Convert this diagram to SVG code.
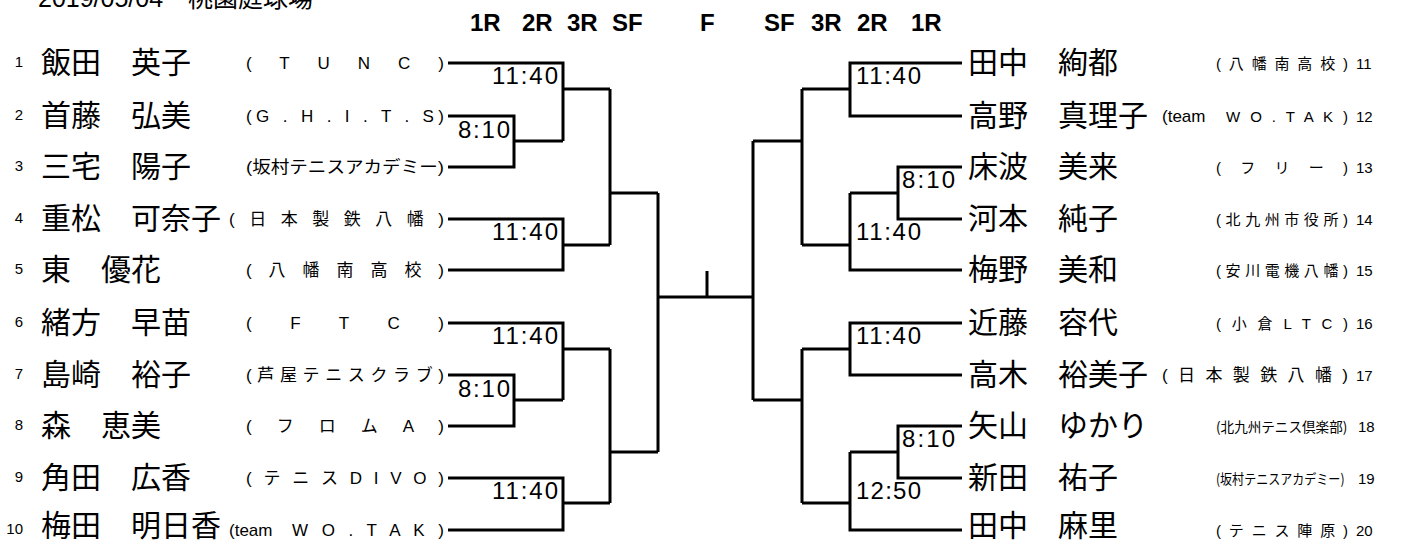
<svg xmlns="http://www.w3.org/2000/svg" width="1416" height="544" viewBox="0 0 1416 544">
<style>
.nm{font-family:'Noto Sans CJK JP','Liberation Sans',sans-serif;font-size:30px;fill:#000}
.no{font-family:'Liberation Sans',sans-serif;font-size:15px;fill:#000}
.af{font-family:'Liberation Sans','Noto Sans CJK JP',sans-serif;font-size:17px;fill:#000}
.ar{font-family:'Liberation Sans','Noto Sans CJK JP',sans-serif;font-size:15px;fill:#000}
.aj{font-family:'Noto Sans CJK JP',sans-serif;font-size:14px;fill:#000}
.sc{font-family:'Liberation Sans',sans-serif;font-size:24px;fill:#000}
.hd{font-family:'Liberation Sans',sans-serif;font-size:24px;font-weight:bold;fill:#000}
.dt{font-family:'Liberation Sans','Noto Sans CJK JP',sans-serif;font-size:25px;fill:#000}
.ln{fill:none;stroke:#000;stroke-width:3}
</style>
<rect width="1416" height="544" fill="#fff"/>
<g id="header">
<text class="dt" x="38" y="7">2019/05/04　桃園庭球場</text>
<text class="hd" x="470" y="31">1R</text>
<text class="hd" x="522" y="31">2R</text>
<text class="hd" x="567" y="31">3R</text>
<text class="hd" x="612" y="31">SF</text>
<text class="hd" x="700" y="31">F</text>
<text class="hd" x="764" y="31">SF</text>
<text class="hd" x="811" y="31">3R</text>
<text class="hd" x="857" y="31">2R</text>
<text class="hd" x="911" y="31">1R</text>
</g>
<g id="connectors">
<path class="ln" d="M448,63H563V141M448,116H514V167H448M514,141H563M563,89H610"/>
<path class="ln" d="M448,219H563V270H448M563,245H610M610,89V245M610,193H658"/>
<path class="ln" d="M448,323H563V400M448,375H514V426H448M514,400H563M563,349H610"/>
<path class="ln" d="M448,478H563V530H448M563,503H610M610,349V503M610,452H658"/>
<path class="ln" d="M658,193V452M658,297H753M707,271V297"/>
<path class="ln" d="M753,141V400M753,141H802M753,400H802M802,89V245"/>
<path class="ln" d="M962,63H850V116H962M802,89H850M962,167H898V219H962M850,193H898M850,193V270H962M802,245H850"/>
<path class="ln" d="M962,323H850V375H962M802,349H850M802,349V503M962,426H898V478H962M850,452H898M850,452V530H962M802,503H850"/>
</g>
<g id="scores">
<text class="sc" x="492" y="84" textLength="66" lengthAdjust="spacing">11:40</text>
<text class="sc" x="458" y="138" textLength="52" lengthAdjust="spacing">8:10</text>
<text class="sc" x="492" y="240" textLength="66" lengthAdjust="spacing">11:40</text>
<text class="sc" x="492" y="344" textLength="66" lengthAdjust="spacing">11:40</text>
<text class="sc" x="458" y="397" textLength="52" lengthAdjust="spacing">8:10</text>
<text class="sc" x="492" y="499" textLength="66" lengthAdjust="spacing">11:40</text>
<text class="sc" x="856" y="84" textLength="65" lengthAdjust="spacing">11:40</text>
<text class="sc" x="902" y="188" textLength="53" lengthAdjust="spacing">8:10</text>
<text class="sc" x="856" y="240" textLength="65" lengthAdjust="spacing">11:40</text>
<text class="sc" x="856" y="344" textLength="65" lengthAdjust="spacing">11:40</text>
<text class="sc" x="902" y="447" textLength="53" lengthAdjust="spacing">8:10</text>
<text class="sc" x="856" y="499" textLength="65" lengthAdjust="spacing">12:50</text>
</g>
<g id="p1"><text class="no" x="23" y="67" text-anchor="end">1</text><text class="nm" x="41" y="73">飯田　英子</text><text class="af" x="246" y="69" textLength="198" lengthAdjust="spacing">( T U N C )</text></g>
<g id="p2"><text class="no" x="23" y="120" text-anchor="end">2</text><text class="nm" x="41" y="126">首藤　弘美</text><text class="af" x="246" y="122" textLength="198" lengthAdjust="spacing">(G . H . I . T . S)</text></g>
<g id="p3"><text class="no" x="23" y="171" text-anchor="end">3</text><text class="nm" x="41" y="177">三宅　陽子</text><text class="af" x="246" y="173" font-size="16" textLength="198" lengthAdjust="spacingAndGlyphs">(坂村テニスアカデミー)</text></g>
<g id="p4"><text class="no" x="23" y="223" text-anchor="end">4</text><text class="nm" x="41" y="229">重松　可奈子</text><text class="af" x="229" y="225" textLength="215" lengthAdjust="spacing">( 日 本 製 鉄 八 幡 )</text></g>
<g id="p5"><text class="no" x="23" y="274" text-anchor="end">5</text><text class="nm" x="41" y="280">東　優花</text><text class="af" x="246" y="276" textLength="198" lengthAdjust="spacing">( 八 幡 南 高 校 )</text></g>
<g id="p6"><text class="no" x="23" y="327" text-anchor="end">6</text><text class="nm" x="41" y="333">緒方　早苗</text><text class="af" x="246" y="329" textLength="198" lengthAdjust="spacing">( F T C )</text></g>
<g id="p7"><text class="no" x="23" y="379" text-anchor="end">7</text><text class="nm" x="41" y="385">島崎　裕子</text><text class="af" x="246" y="381" textLength="198" lengthAdjust="spacing">(芦屋テニスクラブ)</text></g>
<g id="p8"><text class="no" x="23" y="430" text-anchor="end">8</text><text class="nm" x="41" y="436">森　恵美</text><text class="af" x="246" y="432" textLength="198" lengthAdjust="spacing">( フ ロ ム A )</text></g>
<g id="p9"><text class="no" x="23" y="482" text-anchor="end">9</text><text class="nm" x="41" y="488">角田　広香</text><text class="af" x="246" y="484" textLength="198" lengthAdjust="spacing">( テ ニ ス D I V O )</text></g>
<g id="p10"><text class="no" x="23" y="534" text-anchor="end">10</text><text class="nm" x="41" y="536">梅田　明日香</text><text class="af" x="229" y="536" font-size="19">(team</text><text class="af" x="292" y="536" textLength="152" lengthAdjust="spacing">W O . T A K )</text></g>
<g id="p11"><text class="nm" x="968" y="73">田中　絢都</text><text class="ar" x="1216" y="69" textLength="132" lengthAdjust="spacing">( 八 幡 南 高 校 )</text><text class="no" x="1356" y="69">11</text></g>
<g id="p12"><text class="nm" x="968" y="126">高野　真理子</text><text class="af" x="1162" y="122" font-size="19">(team</text><text class="ar" x="1226" y="122" font-size="17" textLength="122" lengthAdjust="spacing">W O . T A K )</text><text class="no" x="1356" y="122">12</text></g>
<g id="p13"><text class="nm" x="968" y="177">床波　美来</text><text class="ar" x="1216" y="173" textLength="132" lengthAdjust="spacing">( フ リ ー )</text><text class="no" x="1356" y="173">13</text></g>
<g id="p14"><text class="nm" x="968" y="229">河本　純子</text><text class="ar" x="1216" y="225" textLength="132" lengthAdjust="spacing">( 北 九 州 市 役 所 )</text><text class="no" x="1356" y="225">14</text></g>
<g id="p15"><text class="nm" x="968" y="280">梅野　美和</text><text class="ar" x="1216" y="276" textLength="132" lengthAdjust="spacing">( 安 川 電 機 八 幡 )</text><text class="no" x="1356" y="276">15</text></g>
<g id="p16"><text class="nm" x="968" y="333">近藤　容代</text><text class="ar" x="1216" y="329" textLength="132" lengthAdjust="spacing">( 小 倉 L T C )</text><text class="no" x="1356" y="329">16</text></g>
<g id="p17"><text class="nm" x="968" y="385">高木　裕美子</text><text class="af" x="1162" y="381" textLength="186" lengthAdjust="spacing">( 日 本 製 鉄 八 幡 )</text><text class="no" x="1356" y="381">17</text></g>
<g id="p18"><text class="nm" x="968" y="436">矢山　ゆかり</text><text class="aj" transform="translate(1216,432) scale(0.97,1)">(北九州テニス倶楽部)</text><text class="no" x="1358" y="432">18</text></g>
<g id="p19"><text class="nm" x="968" y="488">新田　祐子</text><text class="aj" transform="translate(1216,484) scale(0.86,1)">(坂村テニスアカデミー)</text><text class="no" x="1358" y="484">19</text></g>
<g id="p20"><text class="nm" x="968" y="536">田中　麻里</text><text class="ar" x="1216" y="536" textLength="132" lengthAdjust="spacing">( テ ニ ス 陣 原 )</text><text class="no" x="1356" y="536">20</text></g>
</svg>
